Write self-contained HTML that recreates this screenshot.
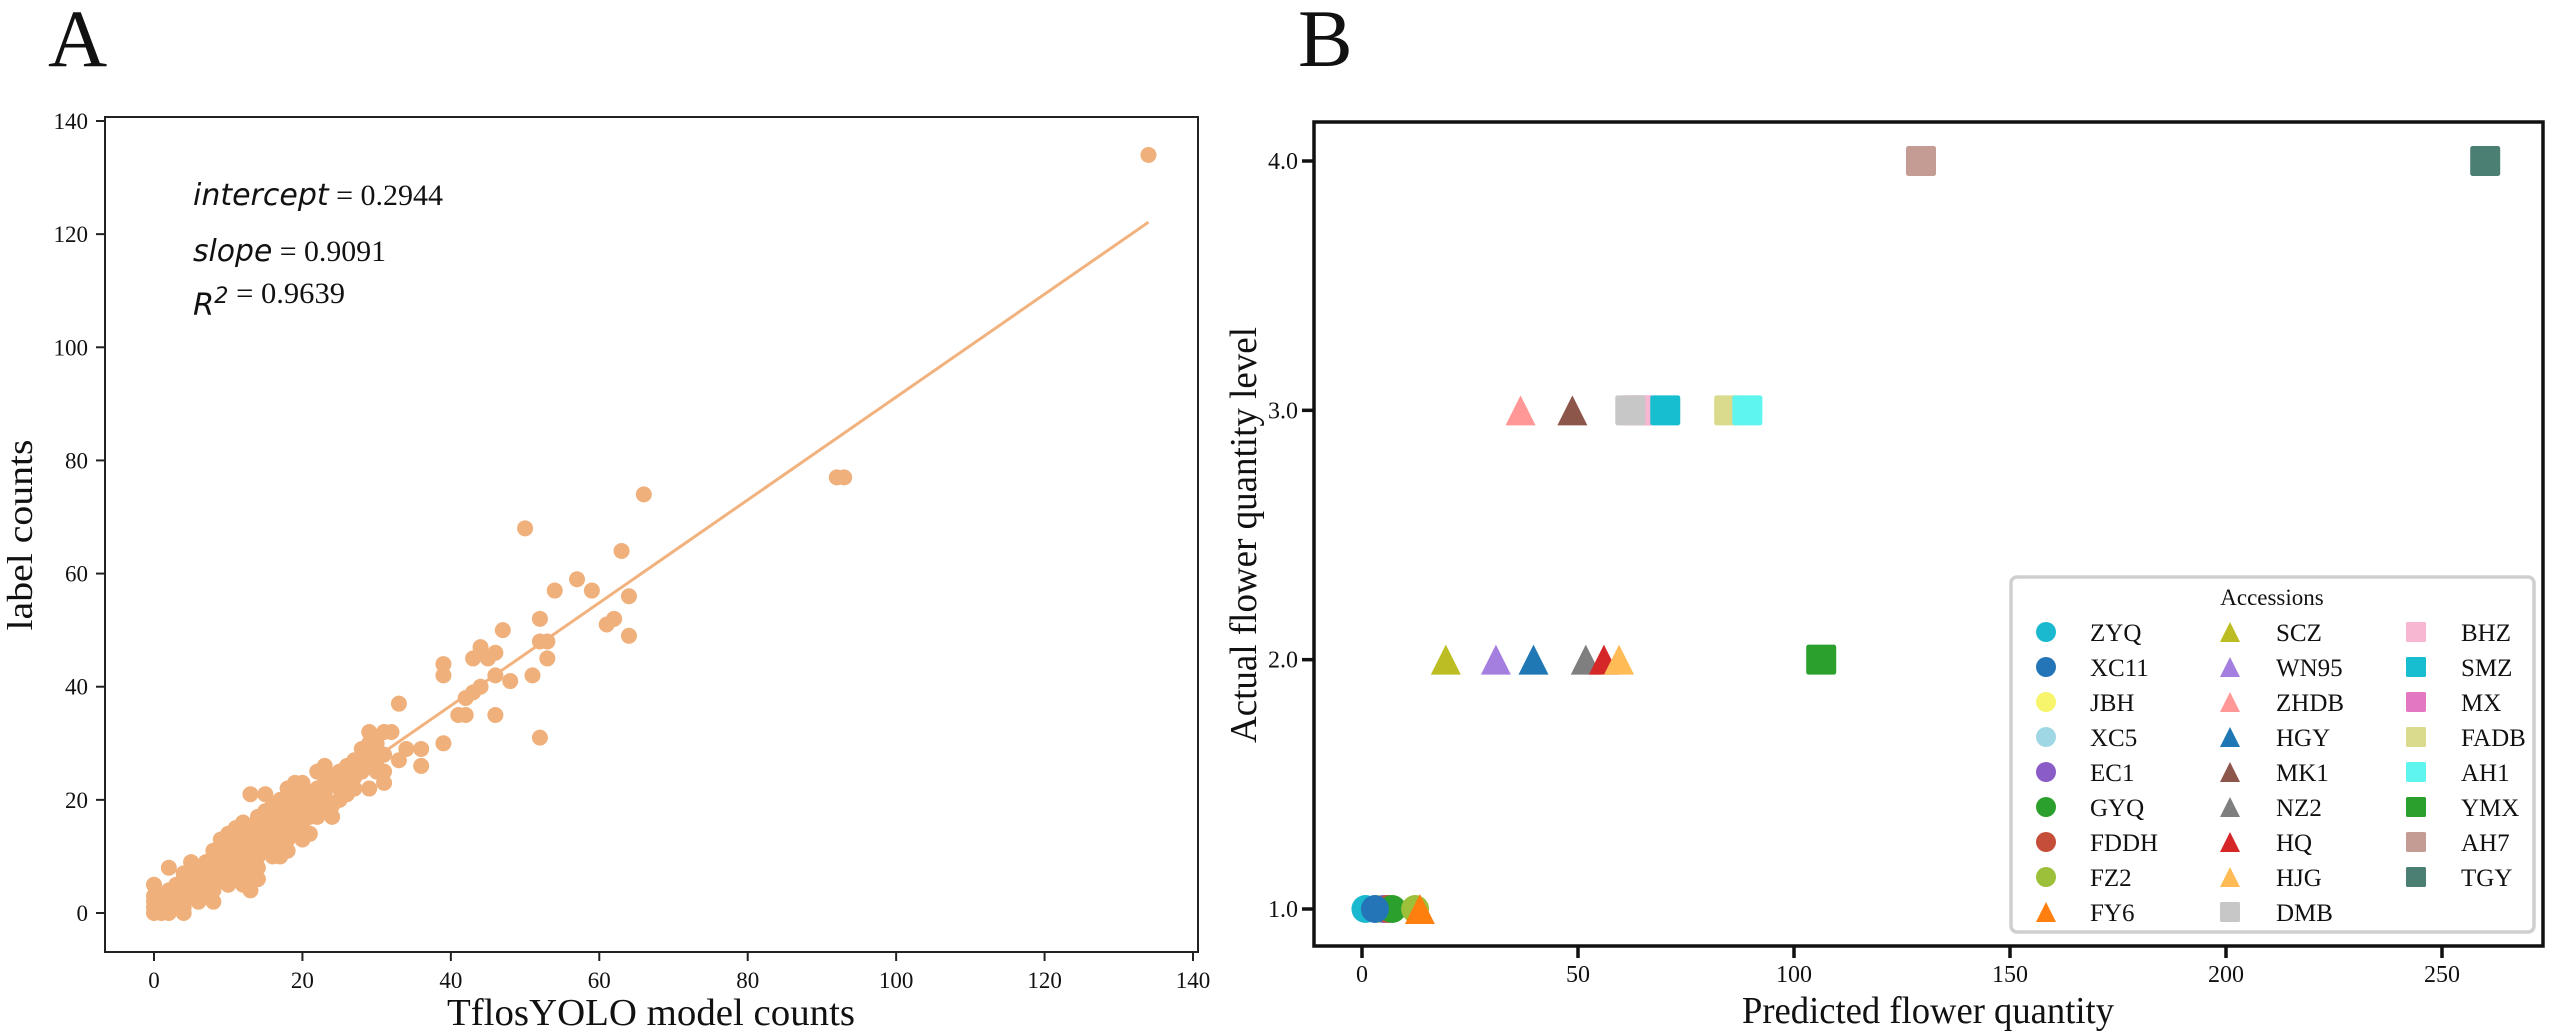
<!DOCTYPE html>
<html><head><meta charset="utf-8">
<style>
html,body{margin:0;padding:0;background:#fff;}
svg{display:block;}
text{font-family:"Liberation Serif",serif;fill:#111;}
.math{font-family:"DejaVu Sans","Liberation Sans",sans-serif;font-style:italic;}
</style></head>
<body>
<svg id="fig" width="2550" height="1035" viewBox="0 0 2550 1035" xmlns="http://www.w3.org/2000/svg">
  <text x="48" y="66" font-size="82">A</text>
  <text x="1298" y="66" font-size="82">B</text>
  <g id="pa"></g>
  <g id="pb"></g>
</svg>
<script>
// ---------- Panel A data ----------
const aXTicks = [0,20,40,60,80,100,120,140];
const aYTicks = [0,20,40,60,80,100,120,140];
const aIntercept = 0.2944;
const aSlope = 0.9091;
const aLineRange = [0,134];
const aX = [134,92,93,66,50,63,57,59,54,64,62,61,64,52,47,53,52,53,51,44,43,45,46,46,48,44,43,42,41,42,46,52,39,39,39,33,36,36,34,33,31,29,32,30,29,28,30,31,31,29,28,27,26,25,24,23,22,23,22,21,20,19,19,18,17,18,16,15,14,13,15,16,17,15,14,13,12,12,11,11,10,10,9,9,8,8,8,8,7,7,6,6,5,5,5,4,4,4,4,3,3,3,2,2,2,2,1,1,0,0,0,0,0,1,6,7,9,10,11,12,13,14,14,13,12,15,16,17,18,19,20,21,22,20,21,19,17,16,18,19,24,25,24,26,27,22,23,20,11,10,9,12,13,14,15,16,17,18,15,14,13,11,10,9,8,7,6,5,3,2,1,10,11,12,13,14,15,16,17,18,20,21,22,23,24,25,26,28,29,30,27,18,19,15,16,29,30,31,12,13];
const aY = [134,77,77,74,68,64,59,57,57,56,52,51,49,52,50,48,48,45,42,47,45,45,46,42,41,40,39,38,35,35,35,31,44,42,30,37,29,26,29,27,32,32,32,29,28,29,25,25,23,22,25,24,26,22,23,26,25,21,18,21,23,20,23,22,20,17,19,18,17,21,21,16,14,14,13,15,16,12,13,10,12,9,10,8,11,7,4,2,9,6,8,5,9,6,3,7,4,1,0,5,3,1,8,4,2,0,3,1,5,3,2,1,0,0,2,3,6,5,7,9,10,10,6,4,5,11,12,12,13,15,16,17,17,19,14,17,16,14,19,18,19,20,17,21,22,20,18,21,15,14,13,14,12,15,16,17,18,15,12,8,7,11,10,11,9,7,6,5,2,1,2,7,8,7,9,12,13,10,10,11,13,19,22,23,24,25,23,26,26,27,27,20,21,15,15,30,30,28,11,13];

// ---------- Panel B data ----------
const bXTicks = [0,50,100,150,200,250];
const bYTicks = [1,2,3,4];
const bNames  = ["ZYQ","XC11","JBH","XC5","EC1","GYQ","FDDH","FZ2","FY6","SCZ","WN95","ZHDB","HGY","MK1","NZ2","HQ","HJG","DMB","BHZ","SMZ","MX","FADB","AH1","YMX","AH7","TGY"];
const bShapes = ["o","o","o","o","o","o","o","o","^","^","^","^","^","^","^","^","^","s","s","s","s","s","s","s","s","s"];
const bColors = ["#1ab9cf","#2474b8","#f7f56b","#9fd8e4","#8a5cc8","#2ca02c","#c44e3a","#9dc03a","#ff7f0e","#bcbd22","#a57fe0","#ff9896","#1f77b4","#8c564b","#7f7f7f","#d62728","#ffbb55","#c7c7c7","#f7b6d2","#17becf","#e377c2","#dbdb8d","#5ff5ef","#2ca02c","#c49c94","#4b7f74"];
const bPred   = [0.8,3,4,5,5,7,6,12.3,13.4,19.4,31,36.7,39.7,48.7,51.8,56,59.5,62.1,63.5,70.2,64,85,89.2,106.3,129.4,260];
const bLevel  = [1,1,1,1,1,1,1,1,1,2,2,3,2,3,2,2,2,3,3,3,3,3,3,2,4,4];
const bDrawOrder = [2,3,4,6,5,7,8,0,1,9,10,11,12,13,14,15,16,20,18,17,19,21,22,23,24,25];

const NS = "http://www.w3.org/2000/svg";
function mk(tag, attrs, parent){const e=document.createElementNS(NS,tag);for(const k in attrs)e.setAttribute(k,attrs[k]);parent.appendChild(e);return e;}

// ---------- Panel A ----------
(function(){
  const g = document.getElementById('pa');
  const L=105,R=1198,T=117,B=952;
  const sx = v => 154 + v*(1193-154)/140;
  const sy = v => 913 - v*(913-121)/140;
  const line = mk('line',{x1:sx(aLineRange[0]),y1:sy(aIntercept+aSlope*aLineRange[0]),x2:sx(aLineRange[1]),y2:sy(aIntercept+aSlope*aLineRange[1]),stroke:'#f2b27e','stroke-width':3},g);
  
  
  for(let i=0;i<aX.length;i++){
    const c = mk('circle',{cx:sx(aX[i]),cy:sy(aY[i]),r:8,fill:'#efb07b'},g);
    
    
  }
  const fr = mk('rect',{x:L,y:T,width:R-L,height:B-T,fill:'none',stroke:'#222','stroke-width':2},g);
  
  
  aXTicks.forEach(v=>{
    const t = mk('line',{x1:sx(v),x2:sx(v),y1:B,y2:B+9,stroke:'#222','stroke-width':2},g);
    
    
    const tx = mk('text',{x:sx(v),y:988,'font-size':23,'text-anchor':'middle'},g);
    tx.textContent = v;
    
    
  });
  aYTicks.forEach(v=>{
    const t = mk('line',{x1:L-9,x2:L,y1:sy(v),y2:sy(v),stroke:'#222','stroke-width':2},g);
    
    
    const tx = mk('text',{x:88,y:sy(v)+8,'font-size':23,'text-anchor':'end'},g);
    tx.textContent = v;
    
    
  });
  const xl = mk('text',{x:651,y:1025,'font-size':38,'text-anchor':'middle',textLength:408,lengthAdjust:'spacingAndGlyphs'},g);
  xl.textContent='TflosYOLO model counts';
  
  
  const yl = mk('text',{x:0,y:0,'font-size':36,'text-anchor':'middle',textLength:191,lengthAdjust:'spacingAndGlyphs',transform:'translate(32,535) rotate(-90)'},g);
  yl.textContent='label counts';
  
  
  const ann = [["intercept"," = 0.2944",205,250],["slope"," = 0.9091",261,193],[null," = 0.9639",315,152]];
  ann.forEach((a,i)=>{
    const t = mk('text',{x:193,y:a[2],'font-size':30,textLength:a[3],lengthAdjust:'spacingAndGlyphs'},g);
    
    
    if(a[0]){
      const s = mk('tspan',{class:'math'},t); s.textContent=a[0];
    } else {
      const s = mk('tspan',{class:'math'},t); s.textContent='R';
      const s2 = mk('tspan',{dy:-12,'font-size':22,class:'math','font-style':'normal'},t); s2.textContent='2';
      const s3 = mk('tspan',{dy:12},t); s3.textContent='';
    }
    const n = mk('tspan',{},t); n.textContent=a[1];
  });
})();

// ---------- Panel B ----------
function marker(g,shape,cx,cy,size,color){
  let e;
  if(shape==='o') e = mk('circle',{cx:cx,cy:cy,r:size/2,fill:color},g);
  else if(shape==='s') e = mk('rect',{x:cx-size/2,y:cy-size/2,width:size,height:size,rx:size*0.08,fill:color},g);
  else { const h=size; e = mk('polygon',{points:`${cx},${cy-h/2} ${cx+size/2},${cy+h/2} ${cx-size/2},${cy+h/2}`,fill:color,'stroke-linejoin':'round'},g); }
  return e;
}
(function(){
  const g = document.getElementById('pb');
  const L=1314,R=2543,T=122,B=946;
  const sx = v => 1362 + v*(2442-1362)/250;
  const sy = v => 909 - (v-1)*(909-161)/3;
  bDrawOrder.forEach(i=>{
    const size = bShapes[i]==='o'?28:30;
    const m = marker(g,bShapes[i],sx(bPred[i]),sy(bLevel[i]),size,bColors[i]);
    
    
  });
  const fr = mk('rect',{x:L,y:T,width:R-L,height:B-T,fill:'none',stroke:'#111','stroke-width':3.5},g);
  
  
  bXTicks.forEach(v=>{
    const t = mk('line',{x1:sx(v),x2:sx(v),y1:B,y2:B+12,stroke:'#111','stroke-width':3.5},g);
    
    
    const tx = mk('text',{x:sx(v),y:982,'font-size':24,'text-anchor':'middle'},g);
    tx.textContent = v;
    
    
  });
  bYTicks.forEach(v=>{
    const t = mk('line',{x1:L-12,x2:L,y1:sy(v),y2:sy(v),stroke:'#111','stroke-width':3.5},g);
    
    
    const tx = mk('text',{x:1298,y:sy(v)+8,'font-size':24,'text-anchor':'end'},g);
    tx.textContent = v.toFixed(1);
    
    
  });
  const xl = mk('text',{x:1928,y:1023,'font-size':38,'text-anchor':'middle',textLength:372,lengthAdjust:'spacingAndGlyphs'},g);
  xl.textContent='Predicted flower quantity';
  
  
  const yl = mk('text',{x:0,y:0,'font-size':38,'text-anchor':'middle',textLength:416,lengthAdjust:'spacingAndGlyphs',transform:'translate(1256,535) rotate(-90)'},g);
  yl.textContent='Actual flower quantity level';
  
  
  // legend
  const lg = mk('g',{},g);
  
  
  const box = mk('rect',{x:2011,y:577,width:523,height:355,rx:6,fill:'#fff',stroke:'#cfcfcf','stroke-width':3.5},lg);
  
  
  const title = mk('text',{x:2272,y:605,'font-size':23,'text-anchor':'middle'},lg);
  title.textContent='Accessions';
  
  
  const colMx=[2046,2230,2416], colTx=[2090,2276,2461];
  bNames.forEach((n,i)=>{
    const col=Math.floor(i/9), row=i%9;
    const cy = 632 + row*35;
    const m = marker(lg,bShapes[i],colMx[col],cy,20,bColors[i]);
    
    
    const t = mk('text',{x:colTx[col],y:cy+9,'font-size':25},lg);
    t.textContent=n;
    
    
  });
})();
</script>
</body></html>
